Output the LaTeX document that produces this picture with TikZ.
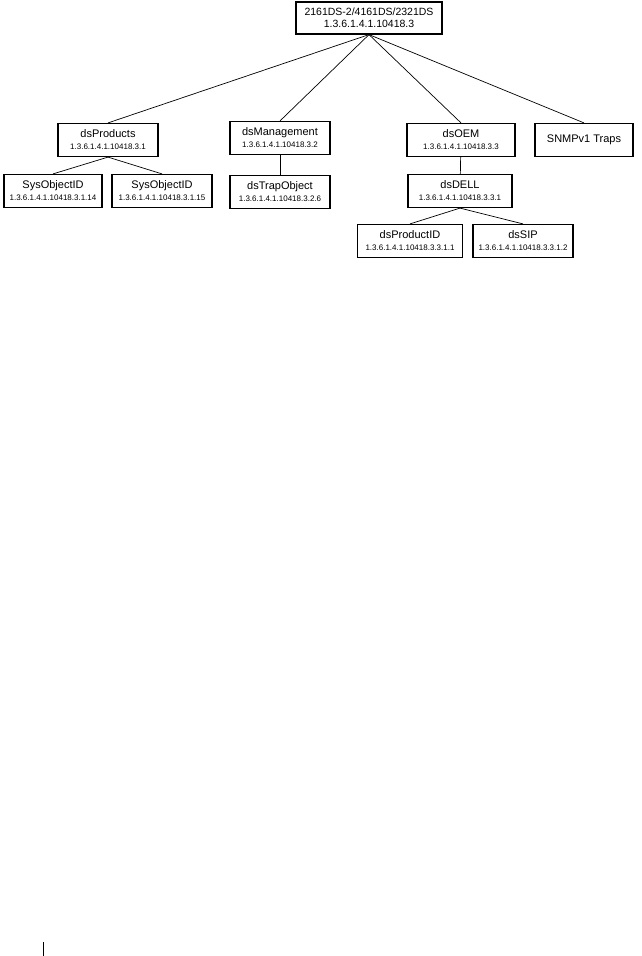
\documentclass[tikz,border=0pt]{standalone}
\usepackage{fontspec}
\setmainfont{Liberation Sans}
\usetikzlibrary{positioning}
\newcommand{\oidtxt}[1]{{\fontsize{8}{9}\selectfont #1}}
\tikzset{
  mibbox/.style={rectangle, draw, line width=1.2pt, minimum width=100pt, minimum height=33pt,
                 align=center, inner sep=1pt, font=\fontsize{11}{12}\selectfont},
  rootbox/.style={mibbox, minimum width=146pt, minimum height=32pt, font=\fontsize{10.5}{12}\selectfont},
  enlace/.style={line width=0.7pt}
}
\begin{document}
\begin{tikzpicture}[x=1pt,y=-1pt]
\useasboundingbox (0,0) rectangle (641,956);
\node[rootbox] (raiz) at (369,18) {2161DS-2/4161DS/2321DS\\ 1.3.6.1.4.1.10418.3};
\node[mibbox] (prod) at (108,140) {dsProducts\\ \oidtxt{1.3.6.1.4.1.10418.3.1}};
\node[mibbox] (mgmt) at (280,138) {dsManagement\\ \oidtxt{1.3.6.1.4.1.10418.3.2}};
\node[mibbox,minimum width=108pt] (oem) at (461,140) {dsOEM\\ \oidtxt{1.3.6.1.4.1.10418.3.3}};
\node[mibbox,minimum width=98pt] (traps) at (584,140) {SNMPv1 Traps};
\node[mibbox,minimum width=98pt] (sys1) at (53,191) {SysObjectID\\ \oidtxt{1.3.6.1.4.1.10418.3.1.14}};
\node[mibbox] (sys2) at (162,191) {SysObjectID\\ \oidtxt{1.3.6.1.4.1.10418.3.1.15}};
\node[mibbox] (trap) at (280,192) {dsTrapObject\\ \oidtxt{1.3.6.1.4.1.10418.3.2.6}};
\node[mibbox,minimum width=104pt] (dell) at (460,191) {dsDELL\\ \oidtxt{1.3.6.1.4.1.10418.3.3.1}};
\node[mibbox,minimum width=105pt] (pid) at (410,241) {dsProductID\\ \oidtxt{1.3.6.1.4.1.10418.3.3.1.1}};
\node[mibbox] (sip) at (523,241) {dsSIP\\ \oidtxt{1.3.6.1.4.1.10418.3.3.1.2}};

\draw[enlace] (raiz.south) -- (prod.north);
\draw[enlace] (raiz.south) -- (mgmt.north);
\draw[enlace] (raiz.south) -- (oem.north);
\draw[enlace] (raiz.south) -- (traps.north);
\draw[enlace] (prod.south) -- (sys1.north);
\draw[enlace] (prod.south) -- (sys2.north);
\draw[enlace] (mgmt) -- (trap);
\draw[enlace] (oem) -- (dell);
\draw[enlace] (dell.south) -- (pid.north);
\draw[enlace] (dell.south) -- (sip.north);

% marca de margen
\draw[line width=1pt] (43,942) -- (43,956);
\end{tikzpicture}
\end{document}
